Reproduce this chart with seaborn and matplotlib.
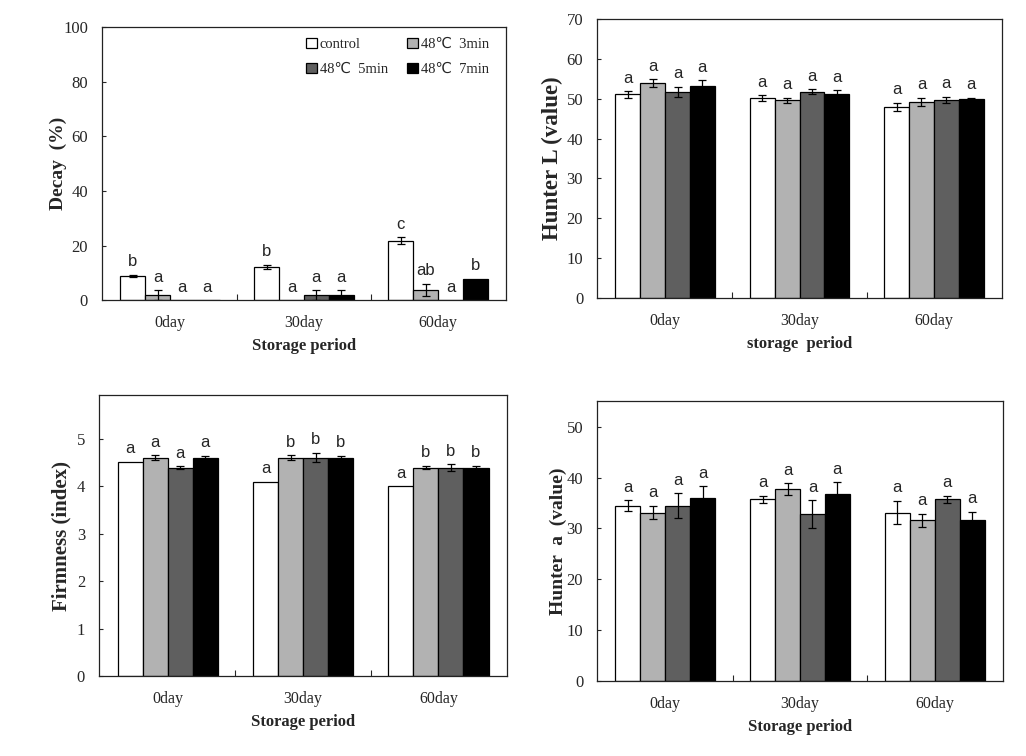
import numpy as np
import pandas as pd
import matplotlib.pyplot as plt
import seaborn as sns

periods = ['0day', '30day', '60day']
treatments = ['control', '48℃  3min', '48℃  5min', '48℃  7min']
colors = ['#ffffff', '#b2b2b2', '#5f5f5f', '#000000']

# values per treatment (rows) x period (cols)
decay = [[8.8, 12.2, 21.7], [1.8, 0.0, 3.7], [0.0, 1.8, 0.0], [0.0, 1.8, 7.8]]
decay_err = [[0.4, 0.7, 1.3], [1.8, 0.0, 2.2], [0.0, 1.8, 0.0], [0.0, 1.8, 0.0]]
decay_sig = [['b', 'b', 'c'], ['a', 'a', 'ab'], ['a', 'a', 'a'], ['a', 'a', 'b']]

hunter_l = [[51.1, 50.2, 48.0], [53.9, 49.6, 49.2], [51.7, 51.8, 49.7], [53.3, 51.1, 49.9]]
hunter_l_err = [[0.8, 0.7, 1.0], [1.0, 0.7, 1.1], [1.3, 0.6, 0.8], [1.3, 1.0, 0.3]]
hunter_l_sig = [['a', 'a', 'a']] * 4

firmness = [[4.52, 4.10, 4.00], [4.61, 4.61, 4.40], [4.40, 4.61, 4.40], [4.61, 4.61, 4.40]]
firmness_err = [[0.0, 0.0, 0.0], [0.05, 0.05, 0.04], [0.03, 0.10, 0.07], [0.04, 0.04, 0.04]]
firmness_sig = [['a', 'a', 'a'], ['a', 'b', 'b'], ['a', 'b', 'b'], ['a', 'b', 'b']]

hunter_a = [[34.5, 35.7, 33.1], [33.1, 37.7, 31.6], [34.5, 32.8, 35.7], [36.0, 36.8, 31.7]]
hunter_a_err = [[1.0, 0.7, 2.3], [1.3, 1.2, 1.3], [2.4, 2.7, 0.7], [2.3, 2.3, 1.6]]
hunter_a_sig = [['a', 'a', 'a']] * 4

sns.set_theme(style='white')
plt.rcParams['font.family'] = ['Liberation Serif', 'DejaVu Sans']
plt.rcParams['axes.edgecolor'] = '#222222'


def draw_panel(ax, vals, errs, sigs, ylim, yticks, ylabel, xlabel, ysize=14, ypad=6):
    rows = []
    for t, name in enumerate(treatments):
        for p, per in enumerate(periods):
            rows.append({'period': per, 'treatment': name, 'value': vals[t][p]})
    df = pd.DataFrame(rows)
    sns.barplot(data=df, x='period', y='value', hue='treatment', order=periods,
                hue_order=treatments, palette=colors, edgecolor='black', linewidth=0.9,
                width=0.74, gap=0, errorbar=None, legend=False, ax=ax, saturation=1)
    bar_groups = list(ax.containers)
    for t, cont in enumerate(bar_groups):
        for p, bar in enumerate(cont):
            x = bar.get_x() + bar.get_width() / 2
            h = bar.get_height()
            e = errs[t][p]
            if e > 0:
                ax.errorbar(x, h, yerr=e, fmt='none', ecolor='black', elinewidth=0.9,
                            capsize=3, capthick=0.9)
            ax.annotate(sigs[t][p], (x, h + e), xytext=(0, 4), textcoords='offset points',
                        ha='center', va='bottom', fontsize=12, family='Liberation Sans')
    ax.set_ylim(*ylim)
    ax.set_yticks(yticks)
    ax.set_ylabel(ylabel, fontsize=ysize, fontweight='bold', labelpad=ypad)
    ax.set_xlabel(xlabel, fontsize=12, fontweight='bold', labelpad=5)
    ax.set_xticks([0.5, 1.5], minor=True)
    ax.tick_params(axis='x', which='major', length=0, labelsize=11.5, pad=11)
    ax.tick_params(axis='x', which='minor', direction='in', length=4, width=0.8, bottom=True)
    ax.tick_params(axis='y', direction='in', length=3, width=0.8, left=True, labelsize=12, pad=10)
    for s in ax.spines.values():
        s.set_linewidth(0.9)
    return bar_groups


fig = plt.figure(figsize=(10.26, 7.56), dpi=100)
ax1 = fig.add_axes([0.0994, 0.603, 0.3938, 0.361])
ax2 = fig.add_axes([0.5819, 0.6058, 0.3947, 0.369])
ax3 = fig.add_axes([0.0965, 0.1058, 0.3977, 0.3717])
ax4 = fig.add_axes([0.5819, 0.0992, 0.3957, 0.370])

groups = draw_panel(ax1, decay, decay_err, decay_sig, (0, 100), range(0, 101, 20),
                    'Decay  (%)', 'Storage period', ypad=-3)
draw_panel(ax2, hunter_l, hunter_l_err, hunter_l_sig, (0, 70), range(0, 71, 10),
           'Hunter L (value)', 'storage  period', ysize=16.5, ypad=2.5)
draw_panel(ax3, firmness, firmness_err, firmness_sig, (0, 5.93), range(0, 6),
           'Firmness (index)', 'Storage period', ysize=15, ypad=4)
draw_panel(ax4, hunter_a, hunter_a_err, hunter_a_sig, (0, 55), range(0, 51, 10),
           'Hunter  a  (value)', 'Storage period', ypad=0)

order = [0, 2, 1, 3]
ax1.legend([groups[i][0] for i in order], [treatments[i] for i in order], ncol=2,
           loc='upper right', bbox_to_anchor=(0.99, 1.01), frameon=False, fontsize=10.5,
           handlelength=0.75, handleheight=0.75, handletextpad=0.2, columnspacing=1.3,
           labelspacing=0.8)

fig.savefig('out.png', dpi=100)
